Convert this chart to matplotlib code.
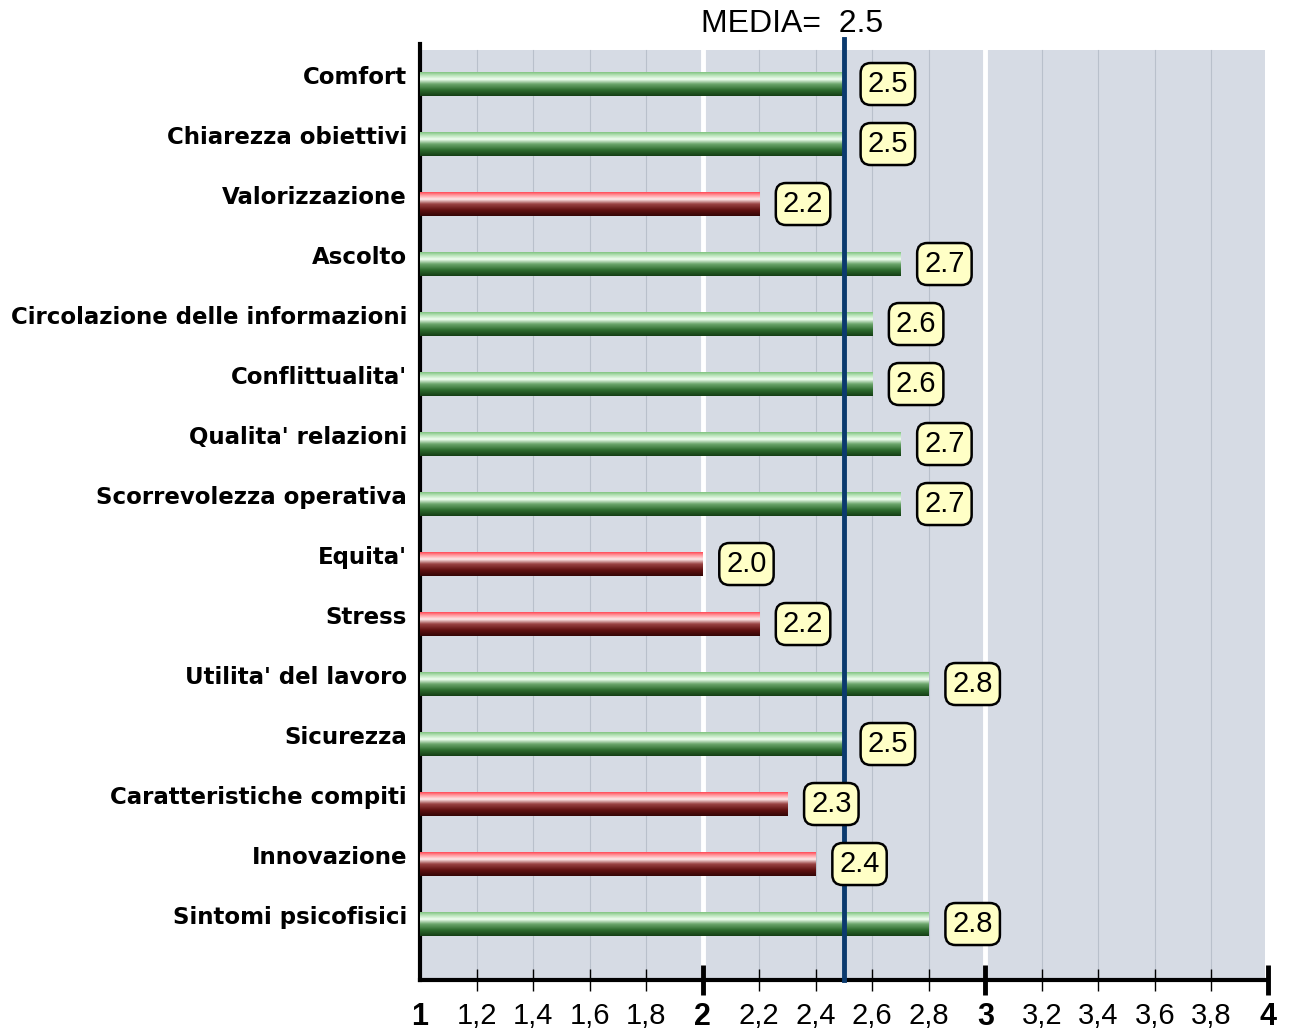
import numpy as np
import matplotlib
matplotlib.use('Agg')
import matplotlib.pyplot as plt
from matplotlib.colors import LinearSegmentedColormap
from matplotlib.patches import Rectangle
import matplotlib.transforms as mtransforms

# dati
categorie = ['Comfort', 'Chiarezza obiettivi', 'Valorizzazione', 'Ascolto',
             'Circolazione delle informazioni', "Conflittualita'",
             "Qualita' relazioni", 'Scorrevolezza operativa', "Equita'",
             'Stress', "Utilita' del lavoro", 'Sicurezza',
             'Caratteristiche compiti', 'Innovazione', 'Sintomi psicofisici']
valori = [2.5, 2.5, 2.2, 2.7, 2.6, 2.6, 2.7, 2.7, 2.0, 2.2, 2.8, 2.5, 2.3, 2.4, 2.8]
media = 2.5

tick_pos = [1, 1.2, 1.4, 1.6, 1.8, 2, 2.2, 2.4, 2.6, 2.8, 3, 3.2, 3.4, 3.6, 3.8, 4]
tick_lab = ['1', '1,2', '1,4', '1,6', '1,8', '2', '2,2', '2,4', '2,6', '2,8',
            '3', '3,2', '3,4', '3,6', '3,8', '4']

# gradienti "cilindrici" per le barre (dall'alto verso il basso)
verde = LinearSegmentedColormap.from_list('verde', [
    (0.00, (0.50, 0.76, 0.50)), (0.12, (0.70, 0.88, 0.70)),
    (0.30, (0.95, 1.00, 0.95)), (0.50, (0.42, 0.65, 0.42)),
    (0.75, (0.18, 0.42, 0.18)), (1.00, (0.08, 0.24, 0.08))])
rosso = LinearSegmentedColormap.from_list('rosso', [
    (0.00, (1.00, 0.28, 0.33)), (0.12, (1.00, 0.58, 0.60)),
    (0.30, (1.00, 0.92, 0.92)), (0.50, (0.60, 0.26, 0.26)),
    (0.75, (0.38, 0.07, 0.07)), (1.00, (0.20, 0.02, 0.02))])
grad = np.linspace(0, 1, 256).reshape(-1, 1)

fig = plt.figure(figsize=(12.91, 10.32), dpi=100)
ax = fig.add_axes([420 / 1291, 52 / 1032, (1268 - 420) / 1291, 936 / 1032])
ax.set_facecolor('white')

y_top = -0.567
y_bot = 14.933
n = len(categorie)

# sfondo e griglia
ax.add_patch(Rectangle((1, y_top), 2.99, y_bot - y_top, facecolor='#d6dbe4',
                       edgecolor='none', zorder=0))
for x in np.arange(1.2, 4.0, 0.2):
    if abs(x - round(x)) < 1e-6:
        ax.plot([x, x], [y_bot, y_top], color='white', lw=3.5, zorder=1)
    else:
        ax.plot([x, x], [y_bot, y_top], color='#b9c0cb', lw=0.8, zorder=1)

# barre
h = 0.2
for i, v in enumerate(valori):
    cm = verde if v >= media else rosso
    ax.imshow(grad, cmap=cm, extent=[1, v, i + h, i - h], aspect='auto',
              interpolation='bilinear', zorder=3)
    ax.annotate(f'{v:.1f}', xy=(v, i), xytext=(17, 0), textcoords='offset points',
                ha='left', va='center', fontsize=21, family='Liberation Sans',
                zorder=5,
                bbox=dict(boxstyle='round,pad=0.24,rounding_size=0.35',
                          fc='#ffffc6', ec='black', lw=1.8))

# linea della media
ax.plot([media, media], [y_bot, -0.75], color='#0b3a6e', lw=3.5, zorder=4,
        clip_on=False)
fig.text(792 / 1291, 1 - 24 / 1032, f'MEDIA=  {media}', ha='center', va='center',
         fontsize=23, family='Liberation Sans')

# etichette delle categorie
trans = mtransforms.blended_transform_factory(ax.transAxes, ax.transData)
for i, c in enumerate(categorie):
    ax.text(-13 / 848, i - 0.11, c, transform=trans, ha='right', va='center',
            fontsize=16.5, fontweight='bold', family='DejaVu Sans')

ax.set_xlim(1, 4)
ax.set_ylim(y_bot, -0.667)
ax.set_yticks([])

# assi
for s in ['top', 'right']:
    ax.spines[s].set_visible(False)
ax.spines['left'].set_linewidth(3)
ax.spines['bottom'].set_linewidth(3)

maj = [p for p in tick_pos if p == int(p)]
mino = [p for p in tick_pos if p != int(p)]
ax.set_xticks(maj, [l for p, l in zip(tick_pos, tick_lab) if p == int(p)])
ax.set_xticks(mino, [l for p, l in zip(tick_pos, tick_lab) if p != int(p)], minor=True)
ax.tick_params(axis='x', which='major', direction='inout', length=21, width=3.5,
               pad=5.5, labelsize=22)
ax.tick_params(axis='x', which='minor', direction='inout', length=16, width=1,
               pad=8, labelsize=21)
for t in ax.get_xticklabels():
    t.set_fontweight('bold')
    t.set_family('Liberation Sans')
for t in ax.get_xticklabels(minor=True):
    t.set_family('Liberation Sans')
ax.xaxis.get_major_ticks()[0].tick1line.set_visible(False)

fig.savefig('out.png', dpi=100)
